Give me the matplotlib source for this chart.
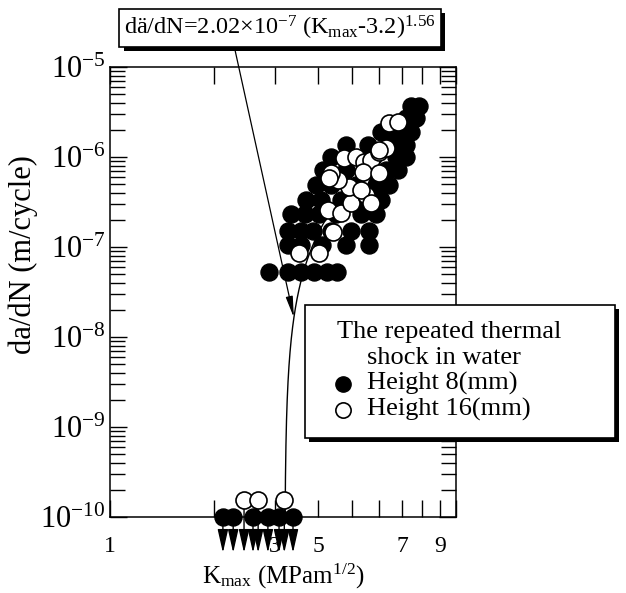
import numpy as np
import matplotlib
matplotlib.use("Agg")
import matplotlib.pyplot as plt
import matplotlib.patheffects as pe
from matplotlib.patches import Rectangle
from matplotlib.lines import Line2D

plt.rcParams['font.family'] = ['Liberation Serif', 'DejaVu Serif']
plt.rcParams['mathtext.fontset'] = 'custom'
plt.rcParams['mathtext.rm'] = 'Liberation Serif'
plt.rcParams['mathtext.it'] = 'Liberation Serif:italic'
plt.rcParams['mathtext.bf'] = 'Liberation Serif:bold'

# Height 8 mm specimens (filled circles)
k_8 = [2.88, 3.27, 3.57, 3.89, 4.24, 4.53,
       3.27, 3.57, 4.10, 4.81, 5.61,
       3.27, 3.57, 3.87, 4.36, 4.98, 5.61,
       3.34, 3.65, 4.02, 4.50, 5.32, 5.88,
       3.69, 4.07, 4.66, 5.39, 6.06,
       3.95, 4.36, 5.14, 5.88, 6.41,
       4.12, 4.81, 5.69, 6.28, 6.80,
       4.36, 5.76, 6.70, 7.18,
       4.81, 5.58, 6.50, 7.18,
       6.06, 6.70, 7.40,
       7.18, 7.67,
       7.40, 7.83]
dadn_8 = [5.3e-8, 5.3e-8, 5.3e-8, 5.3e-8, 5.3e-8, 5.3e-8,
          1.05e-7, 1.05e-7, 1.05e-7, 1.05e-7, 1.05e-7,
          1.5e-7, 1.5e-7, 1.5e-7, 1.5e-7, 1.5e-7, 1.5e-7,
          2.3e-7, 2.3e-7, 2.3e-7, 2.3e-7, 2.3e-7, 2.3e-7,
          3.3e-7, 3.3e-7, 3.3e-7, 3.3e-7, 3.3e-7,
          4.9e-7, 4.9e-7, 4.9e-7, 4.9e-7, 4.9e-7,
          7.2e-7, 7.2e-7, 7.2e-7, 7.2e-7, 7.2e-7,
          1.0e-6, 1.0e-6, 1.0e-6, 1.0e-6,
          1.36e-6, 1.36e-6, 1.36e-6, 1.36e-6,
          1.9e-6, 1.9e-6, 1.9e-6,
          2.7e-6, 2.7e-6,
          3.7e-6, 3.7e-6]

# Height 16 mm specimens (open circles)
k_16 = [3.52, 4.02, 4.41, 4.27, 4.66, 4.98, 4.91, 4.56, 4.36, 4.30,
        4.75, 5.14, 5.43, 5.69, 6.00, 6.28, 5.39, 6.00, 5.50, 5.32,
        5.69, 6.00, 6.41, 6.80]
dadn_16 = [8.6e-8, 8.6e-8, 1.47e-7, 2.6e-7, 2.4e-7, 3.1e-7, 4.6e-7, 5.5e-7, 6.6e-7, 5.8e-7,
           9.7e-7, 1.0e-6, 8.8e-7, 9.3e-7, 1.14e-6, 1.26e-6, 6.8e-7, 6.6e-7, 3.8e-7, 4.3e-7,
           3.1e-7, 1.2e-6, 2.4e-6, 2.45e-6]

# run-outs (no detectable growth), drawn with downward arrows
k_8_run = [2.12, 2.27, 2.59, 2.86, 3.08, 3.38]
dadn_8_run = [1e-10, 1e-10, 1e-10, 1e-10, 1e-10, 1e-10]
k_16_run = [2.44, 2.68, 3.19]
dadn_16_run = [1.55e-10, 1.55e-10, 1.55e-10]
arrow_end = 4e-11

# fitted law: da/dN = C (Kmax - K0)^m
fit_c, fit_k0, fit_m = 2.02e-7, 3.2, 1.56
fit_kmax = 8.0
arrow_k = 3.4

x_lim = (1, 10)
y_lim = (1e-10, 1e-5)
x_tick_pos = [1, 3, 4, 7, 9]
x_tick_lab = ['1', '3', '5', '7', '9']
x_minor_pos = [2, 5, 6, 8, 10]
y_tick_pos = [1e-10, 1e-9, 1e-8, 1e-7, 1e-6, 1e-5]


def fit(k):
    return fit_c * (np.asarray(k) - fit_k0) ** fit_m


W, H = 626, 593
fig = plt.figure(figsize=(W / 100, H / 100), dpi=100)
ax = fig.add_axes([110 / W, 1 - 517 / H, 346 / W, 450 / H])
ax.set_xscale('log')
ax.set_yscale('log')
ax.set_xlim(*x_lim)
ax.set_ylim(*y_lim)

# fitted curve
kk = fit_k0 + np.logspace(-3, np.log10(fit_kmax - fit_k0), 400)
ax.plot(kk, fit(kk), color='k', lw=1.0, zorder=2)

# run-out arrows
for k, y0 in list(zip(k_8_run, dadn_8_run)) + list(zip(k_16_run, dadn_16_run)):
    ax.annotate('', xy=(k, arrow_end), xytext=(k, y0),
                arrowprops=dict(arrowstyle='-|>,head_length=0.8,head_width=0.18',
                                color='k', lw=1.0, mutation_scale=18,
                                shrinkA=0, shrinkB=0),
                annotation_clip=False, zorder=1)

ms = 150
ax.scatter(k_8, dadn_8, s=ms, c='k', edgecolors='k', linewidths=1, zorder=3)
ax.scatter(k_16, dadn_16, s=ms, c='white', edgecolors='k', linewidths=1.2, zorder=4)
ax.scatter(k_16_run, dadn_16_run, s=ms, c='white', edgecolors='k', linewidths=1.2,
           zorder=3, clip_on=False)
ax.scatter(k_8_run, dadn_8_run, s=ms, c='k', edgecolors='k', linewidths=1,
           zorder=4, clip_on=False)

# ticks
ax.set_xticks(x_tick_pos)
ax.set_xticklabels(x_tick_lab)
ax.set_xticks(x_minor_pos, minor=True)
ax.xaxis.set_minor_formatter(plt.NullFormatter())
ax.set_yticks(y_tick_pos)
ax.yaxis.set_minor_formatter(plt.NullFormatter())
ax.tick_params(which='both', direction='in', top=True, right=True,
               length=12, width=1, color='k')
ax.tick_params(axis='x', which='major', pad=14, labelsize=17)
ax.tick_params(axis='y', which='major', pad=3, labelsize=22)
ax.tick_params(axis='y', which='minor', length=11)
for s in ax.spines.values():
    s.set_linewidth(1.1)

ax.set_xlabel(r'K$_{\mathrm{max}}$ (MPam$^{\mathrm{1/2}}$)', fontsize=18)
ax.xaxis.set_label_coords(0.5, -0.1)
ax.set_ylabel('da/dN (m/cycle)', fontsize=22)
ax.yaxis.set_label_coords(-0.208, 0.584)

# callout with the fitted law
ann = ax.annotate(r'dä/dN=2.02$\times$10$^{-7}$ (K$_{\mathrm{max}}$-3.2)$^{\mathrm{1.56}}$',
                  xy=(arrow_k, fit(arrow_k)), xycoords='data',
                  xytext=(280 / W, 1 - 28 / H), textcoords='figure fraction',
                  ha='center', va='center', fontsize=17.5,
                  bbox=dict(boxstyle='square,pad=0.2', fc='white', ec='k', lw=1.2),
                  arrowprops=dict(arrowstyle='-|>,head_length=0.9,head_width=0.15',
                                  color='k', lw=0.9, mutation_scale=14,
                                  relpos=(0.35, 0), shrinkA=0, shrinkB=0),
                  annotation_clip=False, zorder=6)
ann.get_bbox_patch().set_path_effects(
    [pe.SimplePatchShadow(offset=(3, -3), shadow_rgbFace='k', alpha=1), pe.Normal()])

# legend box
box = Rectangle((305 / W, 1 - 438 / H), 310 / W, 133 / H, transform=fig.transFigure,
                fc='white', ec='k', lw=1.2, zorder=5)
box.set_path_effects([pe.SimplePatchShadow(offset=(3, -3), shadow_rgbFace='k', alpha=1),
                      pe.Normal()])
fig.add_artist(box)
fs_leg = 19
fig.text(337 / W, 1 - 338 / H, 'The repeated thermal', fontsize=fs_leg, va='baseline', zorder=6)
fig.text(367 / W, 1 - 364 / H, 'shock in water', fontsize=fs_leg, va='baseline', zorder=6)
fig.text(367 / W, 1 - 390 / H, 'Height 8(mm)', fontsize=fs_leg, va='baseline', zorder=6)
fig.text(367 / W, 1 - 416 / H, 'Height 16(mm)', fontsize=fs_leg, va='baseline', zorder=6)
fig.add_artist(Line2D([343 / W], [1 - 384 / H], marker='o', ms=11, mfc='k', mec='k',
                      transform=fig.transFigure, zorder=6))
fig.add_artist(Line2D([343 / W], [1 - 410 / H], marker='o', ms=11, mfc='white', mec='k',
                      mew=1.2, transform=fig.transFigure, zorder=6))

fig.savefig('out.png', dpi=100)
